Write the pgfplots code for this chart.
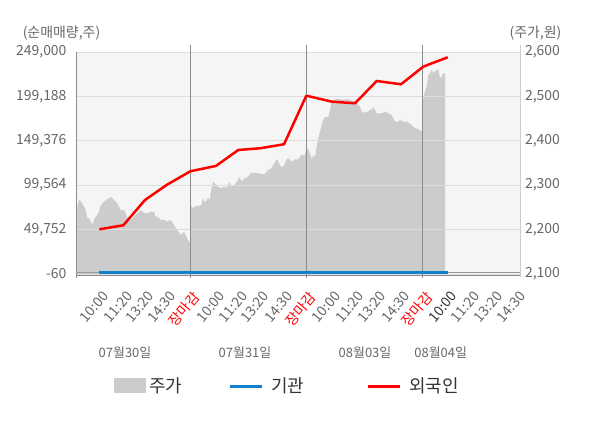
\documentclass[border=0pt]{standalone}
\usepackage{pgfplots}
\pgfplotsset{compat=1.18}
\usepackage{fontspec}
\setmainfont{Noto Sans CJK KR}
\definecolor{bgc}{HTML}{F5F5F5}
\definecolor{gridc}{HTML}{DDDDDD}
\definecolor{areac}{HTML}{CCCCCC}
\definecolor{txt}{HTML}{666666}
\definecolor{blu}{HTML}{1380D0}
\definecolor{axc}{HTML}{8C8C8C}
\definecolor{legt}{HTML}{333333}
\pgfplotstableread{
x y
76 2226
78 2259
79 2267
81 2263
82.3 2259
84 2252
85.7 2244
87.3 2226
89 2226
90.7 2218
92.3 2210
94 2222
95.7 2229
97.3 2233
99 2240
100.7 2255
104 2263
107.3 2268
110.7 2274
114 2267
117.3 2259
120.7 2244
124 2244
125.7 2237
127.3 2226
130.7 2222
134 2229
137.3 2237
140.7 2244
144 2237
147.3 2237
150.7 2240
154 2240
155.7 2229
157.3 2229
160.7 2222
164 2222
167.3 2218
170.7 2222
174 2210
177.3 2199
180.7 2188
184 2195
187.3 2180
189 2173
190 2169
190.5 2255
193 2248
194.7 2252
198 2253
201.3 2255
203 2271
204.7 2261
206.3 2265
208 2271
209.7 2267
211.3 2289
213 2308
214.7 2304
216.3 2301
218 2297
221.3 2293
224.7 2297
226.3 2293
229.7 2308
231.3 2297
234.7 2301
238 2312
239.7 2319
241.3 2308
244.7 2316
248 2319
251.3 2328
254.7 2328
258 2327
261.3 2325
264.7 2325
268 2334
271.3 2338
274.7 2351
276.3 2357
278 2355
279.7 2346
281.3 2340
284.7 2346
286.3 2357
288 2361
291.3 2353
294.7 2358
298 2358
301.3 2368
304.7 2368
306.3 2380
307.3 2383
308.3 2379
310 2372
311.7 2357
313.3 2368
315 2364
316.7 2387
318.3 2406
320 2421
321.7 2436
323.3 2447
325 2454
328.3 2454
330 2469
331.7 2488
333.3 2492
336.7 2494
340 2494
343.3 2492
346.7 2494
350 2492
353.3 2490
356.7 2485
358.3 2481
360 2477
361.7 2466
365 2463
368.3 2466
370 2471
371.7 2469
373.3 2477
375 2469
376.7 2462
380 2462
383.3 2463
385 2466
388.3 2462
391.7 2458
395 2443
398.3 2443
400 2447
403.3 2443
406.7 2443
410 2439
413.3 2432
415 2428
416.7 2428
420 2424
421.7 2421
422.5 2418
423.3 2499
425 2511
426.7 2522
428.3 2548
430 2552
431.7 2560
433.3 2552
435 2556
436.7 2560
438.3 2560
440 2541
441.7 2544
443.3 2552
445 2552
}\price
\pgfplotstableread{
x y
99.3 50100
123.3 54600
145 83000
166.7 99900
190.3 115200
216 121200
238.3 139100
260 141000
284 145500
306.3 200000
331.7 193300
355 191500
376.7 216500
401 212800
423.3 232600
447.7 243100
}\foreign
\pgfplotstableread{
x y
99.3 1400
123.3 1400
145 1400
166.7 1400
190.3 1400
216 1400
238.3 1400
260 1400
284 1400
306.3 1400
331.7 1400
355 1400
376.7 1400
401 1400
423.3 1400
447.7 1400
}\inst
\begin{document}
\begin{tikzpicture}[x=1bp,y=1bp]
\useasboundingbox (0,0) rectangle (600,-428);
% price axis (right)
\begin{axis}[at={(76bp,-274bp)}, anchor=south west, scale only axis,
  width=444bp, height=222bp,
  xmin=76, xmax=520, ymin=2100, ymax=2600,
  axis background/.style={fill=bgc},
  axis line style={draw=none},
  xtick=\empty,
  ytick={2100,2200,2300,2400,2500,2600},
  yticklabels={{2,100},{2,200},{2,300},{2,400},{2,500},{2,600}},
  yticklabel pos=right,
  major tick length=0pt,
  ymajorgrids, grid style={gridc, line width=1bp},
  yticklabel style={font=\fontsize{14}{14}\selectfont, text=txt, xshift=1.5bp},
  axis on top]
\addplot[draw=none, fill=areac] table[x=x,y=y] {\price} \closedcycle;
\end{axis}
% decorations: day separators and axis lines
\draw[axc, line width=1bp] (190.3,-45) -- (190.3,-278);
\draw[axc, line width=1bp] (306.3,-45) -- (306.3,-278);
\draw[axc, line width=1bp] (422.7,-45) -- (422.7,-278);
\draw[axc, line width=1bp] (76,-52) -- (76,-278);
\draw[black!20, line width=1bp] (520,-45) -- (520,-277);
\draw[black!45, line width=1bp] (76,-275) -- (520,-275);
% volume axis (left)
\begin{axis}[at={(76bp,-274bp)}, anchor=south west, scale only axis,
  width=444bp, height=222bp,
  xmin=76, xmax=520, ymin=-60, ymax=249000,
  axis line style={draw=none},
  major tick length=0pt,
  scaled y ticks=false,
  ytick={-60,49752,99564,149376,199188,249000},
  yticklabels={{-60},{49,752},{99,564},{149,376},{199,188},{249,000}},
  yticklabel style={font=\fontsize{14}{14}\selectfont, text=txt, xshift=-6bp},
  xtick={101.5,125.5,147,169,191.5,218,240.5,262,286,308,333.5,357,379,403,424.5,450,472.5,495.5,518.5},
  xticklabels={10:00,11:20,13:20,14:30,\textcolor{red}{장마감},
               10:00,11:20,13:20,14:30,\textcolor{red}{장마감},
               10:00,11:20,13:20,14:30,\textcolor{red}{장마감},
               \textcolor{legt}{10:00},11:20,13:20,14:30},
  xticklabel style={yshift=-16bp, rotate=50, anchor=north east, inner sep=0pt,
     font=\fontsize{14}{14}\selectfont, text=txt},
  clip=false]
\addplot[black!40, line width=0.8bp] coordinates {(76,1400) (520,1400)};
\addplot[blu, line width=3bp] table[x=x,y=y] {\inst};
\addplot[red, line width=2.5bp, line join=round] table[x=x,y=y] {\foreign};
\end{axis}
% tick marks at day boundaries
\foreach \xx in {76,190.3,306.3,422.7} \draw[axc, line width=1bp] (\xx,-274) -- (\xx,-278);
% axis titles
\node[text=txt, font=\fontsize{14}{14}\selectfont] at (61.5,-33) {(순매매량,주)};
\node[text=txt, font=\fontsize{14}{14}\selectfont] at (535.5,-33) {(주가,원)};
% dates
\node[text=txt, font=\fontsize{13}{13}\selectfont] at (125,-353) {07월30일};
\node[text=txt, font=\fontsize{13}{13}\selectfont] at (245,-353) {07월31일};
\node[text=txt, font=\fontsize{13}{13}\selectfont] at (365,-353) {08월03일};
\node[text=txt, font=\fontsize{13}{13}\selectfont] at (440.7,-353) {08월04일};
% legend
\fill[areac] (114,-378) rectangle (146,-393);
\node[anchor=west, inner sep=0pt, text=legt, font=\fontsize{18}{18}\selectfont] at (149,-386) {주가};
\draw[blu, line width=3bp] (230,-386) -- (262,-386);
\node[anchor=west, inner sep=0pt, text=legt, font=\fontsize{18}{18}\selectfont] at (271,-386) {기관};
\draw[red, line width=3bp] (368,-386) -- (400,-386);
\node[anchor=west, inner sep=0pt, text=legt, font=\fontsize{18}{18}\selectfont] at (409,-386) {외국인};
\end{tikzpicture}
\end{document}
